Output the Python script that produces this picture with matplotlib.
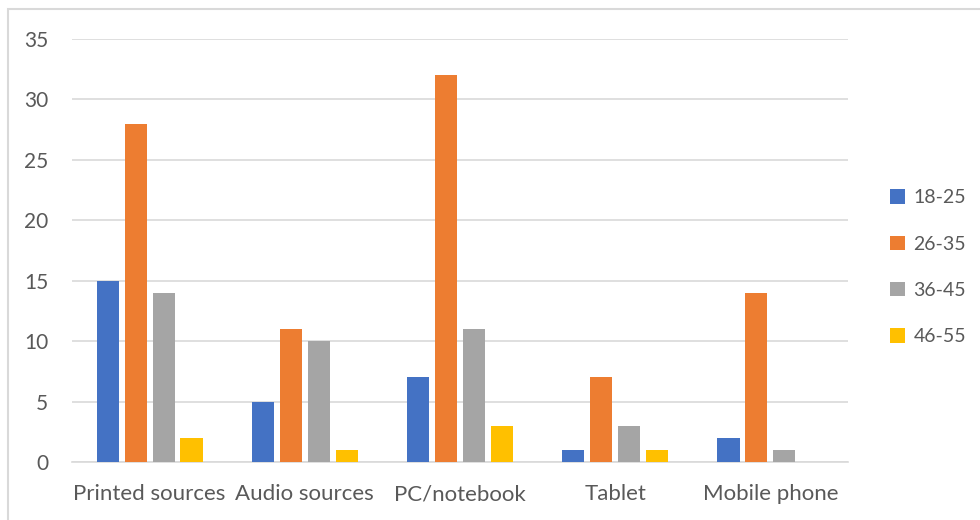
import matplotlib.pyplot as plt
import numpy as np
from matplotlib.patches import Rectangle

categories = ["Printed sources", "Audio sources", "PC/notebook", "Tablet", "Mobile phone"]
groups = ["18-25", "26-35", "36-45", "46-55"]
age_18_25 = [15, 5, 7, 1, 2]
age_26_35 = [28, 11, 32, 7, 14]
age_36_45 = [14, 10, 11, 3, 1]
age_46_55 = [2, 1, 3, 1, 0]
colors = ["#4472C4", "#ED7D31", "#A5A5A5", "#FFC000"]

plt.rcParams["font.family"] = ["Lato", "DejaVu Sans"]

fig = plt.figure(figsize=(9.8, 5.2), dpi=100)
ax = fig.add_axes([72 / 980, 1 - 462 / 520, 776 / 980, 423 / 520])

x = np.arange(len(categories))
width = 0.142
pitch = 0.18
series = [age_18_25, age_26_35, age_36_45, age_46_55]
for i, (vals, c, g) in enumerate(zip(series, colors, groups)):
    ax.bar(x + (i - 1.5) * pitch, vals, width, color=c, label=g, zorder=3)

ax.set_xlim(-0.5, len(categories) - 0.5)
ax.set_ylim(0, 35)
ax.set_yticks(range(0, 36, 5))
ax.set_xticks(x)
ax.set_xticklabels(categories)
ax.grid(axis="y", color="#d9d9d9", linewidth=1.2, zorder=0)
for s in ["top", "right", "left"]:
    ax.spines[s].set_visible(False)
ax.spines["bottom"].set_color("#d9d9d9")
ax.spines["bottom"].set_linewidth(1.2)
ax.tick_params(axis="both", length=0, labelcolor="#595959")
ax.tick_params(axis="y", pad=17, labelsize=15)
ax.tick_params(axis="x", pad=16, labelsize=16)

ax.legend(loc="center left", bbox_to_anchor=(0.89, 0.486), bbox_transform=fig.transFigure,
          frameon=False, fontsize=14, labelcolor="#595959", handlelength=0.78,
          handleheight=0.78, handletextpad=0.45, labelspacing=1.5)

fig.patches.append(Rectangle((8 / 980, -0.1), 1.2, 1 - 9 / 520 + 0.1,
                             transform=fig.transFigure, fill=False,
                             edgecolor="#d9d9d9", linewidth=1.5))

fig.savefig("out.png", dpi=100)
